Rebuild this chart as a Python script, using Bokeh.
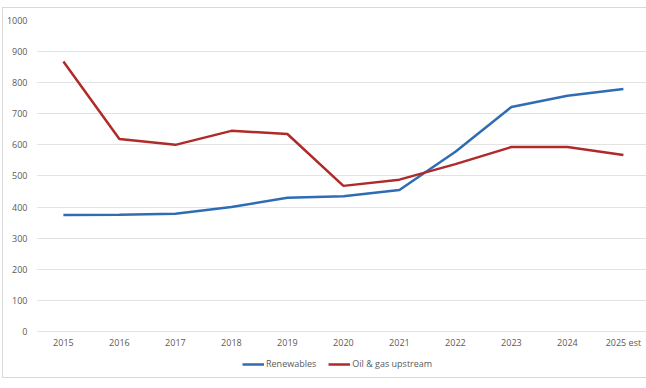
from bokeh.plotting import figure
from bokeh.models import FixedTicker, Legend, LegendItem, ColumnDataSource
from bokeh.core.properties import value
from bokeh.embed import file_html
from bokeh.resources import INLINE

years = ["2015", "2016", "2017", "2018", "2019", "2020", "2021", "2022", "2023", "2024", "2025 est"]
renewables = [374, 375, 378, 400, 430, 435, 455, 578, 722, 758, 780]
oil_gas = [868, 619, 600, 645, 635, 468, 488, 538, 593, 593, 567]
y_ticks = [0, 100, 200, 300, 400, 500, 600, 700, 800, 900, 1000]

xs = list(range(len(years)))

p = figure(width=644, height=371, output_backend="svg", toolbar_location=None,
           x_range=(-0.48, 10.43), y_range=(-148.4, 1000),
           min_border_left=33, min_border_right=0, min_border_top=12, min_border_bottom=2)
p.margin = (7, 0, 0, 2)
p.styles = {"border-left": "1px solid #d9d9d9", "border-top": "1px solid #d9d9d9",
            "border-bottom": "1px solid #d9d9d9"}
p.outline_line_color = None
p.background_fill_color = "white"
p.border_fill_color = "white"

p.xgrid.grid_line_color = None
p.ygrid.grid_line_color = "#E3E3E3"
p.ygrid.grid_line_width = 1
p.ygrid.ticker = FixedTicker(ticks=y_ticks)

r1 = p.line(xs, renewables, line_color="#2E6DB4", line_width=2.5)
r2 = p.line(xs, oil_gas, line_color="#B02A2A", line_width=2.5)

# category labels drawn through the data scales, just below the zero line
lab = ColumnDataSource(dict(x=xs, y=[0] * len(xs), t=years))
p.text(x="x", y="y", text="t", source=lab, text_align="center", text_baseline="middle",
       y_offset=11, text_font=value("Open Sans"), text_font_size="9px", text_color="#595959")

p.xaxis.visible = False
p.yaxis.ticker = FixedTicker(ticks=y_ticks)
ax = p.yaxis[0]
ax.axis_line_color = None
ax.major_tick_line_color = None
ax.minor_tick_line_color = None
ax.major_tick_out = 0
ax.major_tick_in = 0
ax.minor_tick_out = 0
ax.minor_tick_in = 0
ax.major_label_text_font = "Open Sans"
ax.major_label_text_font_size = "9px"
ax.major_label_text_color = "#595959"
ax.major_label_standoff = 9

legend = Legend(items=[LegendItem(label="Renewables", renderers=[r1]),
                       LegendItem(label="Oil & gas upstream", renderers=[r2])],
                orientation="horizontal", location=(206, 7),
                label_text_font="Open Sans", label_text_font_size="9px",
                label_text_color="#595959", glyph_width=22, glyph_height=10,
                label_standoff=2, spacing=12, padding=0, margin=0,
                border_line_color=None, background_fill_alpha=0)
p.add_layout(legend, "center")

open("out.html", "w").write(file_html(p, INLINE))
